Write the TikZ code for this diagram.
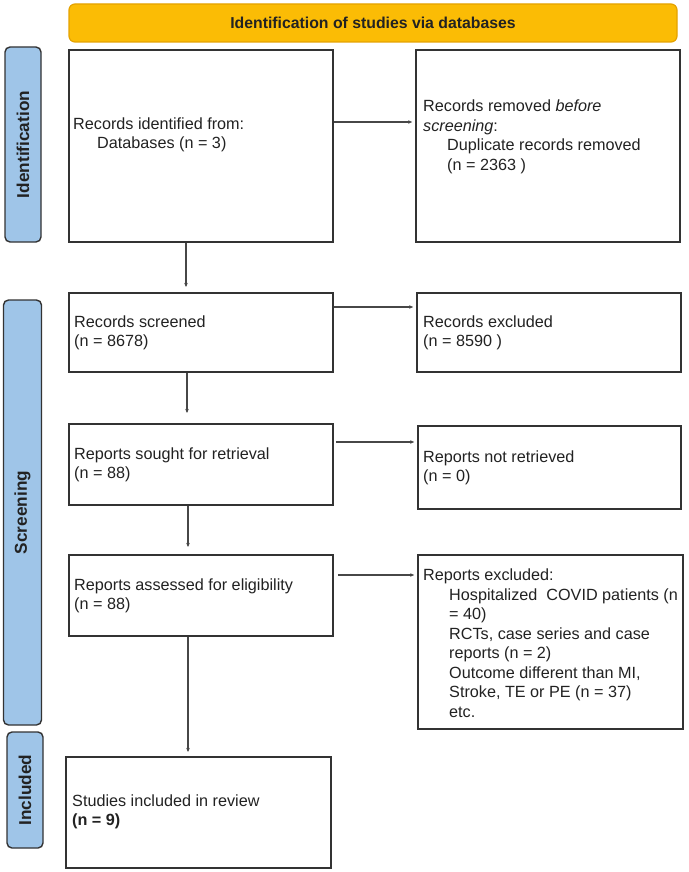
\documentclass[tikz,border=0pt]{standalone}
\usepackage{fontspec}
\setmainfont{Liberation Sans}
\usetikzlibrary{arrows.meta,positioning}
\definecolor{bannerfill}{HTML}{FBBC05}
\definecolor{bannerdraw}{HTML}{E5A200}
\definecolor{sidefill}{HTML}{9FC5E8}
\definecolor{linec}{HTML}{333333}
\definecolor{txtc}{HTML}{222222}
\begin{document}
\begin{tikzpicture}[x=1pt,y=-1pt,
  box/.style={draw=linec,line width=1.7pt,rectangle,inner sep=0pt},
  txt/.style={inner sep=0pt,anchor=west,align=left,text=txtc,font=\fontsize{16.2}{19.5}\selectfont},
  side/.style={draw=linec,line width=1.4pt,fill=sidefill,rounded corners=5pt,inner sep=0pt},
  sidetxt/.style={rotate=90,font=\fontsize{17.2}{18}\selectfont\bfseries,text=txtc},
  arr/.style={draw=linec!90,line width=1.2pt,-{Stealth[length=4pt,width=3.5pt]}}]
\useasboundingbox[fill=white] (0,0) rectangle (688,872);
% banner
\node[draw=bannerdraw,fill=bannerfill,line width=1.2pt,rounded corners=6pt,minimum width=608pt,minimum height=38pt,
  font=\fontsize{15.8}{18}\selectfont\bfseries,text=txtc] (banner) at (373,23) {Identification of studies via databases};
% side bars
\node[side,minimum width=36pt,minimum height=195pt] (sid) at (23,144.5) {};
\node[sidetxt] (sidt) at (sid.center) {Identification};
\node[side,minimum width=38pt,minimum height=425pt] (ssc) at (22.5,512.5) {};
\node[sidetxt] (ssct) at (ssc.center) {Screening};
\node[side,minimum width=36pt,minimum height=116pt] (sin) at (25,790) {};
\node[sidetxt] (sint) at (sin.center) {Included};
% boxes
\node[box,minimum width=264pt,minimum height=192pt] (b1) at (201,146) {};
\node[box,minimum width=264pt,minimum height=192pt] (b2) at (548,146) {};
\node[box,minimum width=264pt,minimum height=79pt] (b3) at (201,332.5) {};
\node[box,minimum width=264pt,minimum height=79pt] (b4) at (549,332.5) {};
\node[box,minimum width=264pt,minimum height=81pt] (b5) at (201,464.5) {};
\node[box,minimum width=263pt,minimum height=83pt] (b6) at (549.5,467.5) {};
\node[box,minimum width=264pt,minimum height=81pt] (b7) at (201,595.5) {};
\node[box,minimum width=265pt,minimum height=174pt] (b8) at (550.5,642) {};
\node[box,minimum width=265pt,minimum height=111pt] (b9) at (198.5,812.5) {};
% texts
\node[txt] (t1) at (73,135) {Records identified from:\\\hspace*{24pt}Databases (n = 3)};
\node[txt] (t2) at (423,137) {Records removed \textit{before}\\\textit{screening}:\\\hspace*{24pt}Duplicate records removed\\\hspace*{24pt}(n = 2363 )};
\node[txt] (t3) at (74,333) {Records screened\\(n = 8678)};
\node[txt] (t4) at (423,333) {Records excluded\\(n = 8590 )};
\node[txt] (t5) at (74,465) {Reports sought for retrieval\\(n = 88)};
\node[txt] (t6) at (423,468) {Reports not retrieved\\(n = 0)};
\node[txt] (t7) at (74,596) {Reports assessed for eligibility\\(n = 88)};
\node[txt] (t8) at (423,643) {Reports excluded:\\
\hspace*{26pt}Hospitalized\ \ COVID patients (n\\
\hspace*{26pt}= 40)\\
\hspace*{26pt}RCTs, case series and case\\
\hspace*{26pt}reports (n = 2)\\
\hspace*{26pt}Outcome different than MI,\\
\hspace*{26pt}Stroke, TE or PE (n = 37)\\
\hspace*{26pt}etc.};
\node[txt] (t9) at (72,812) {Studies included in review\\\textbf{(n = 9)}};
% connectors
\coordinate (a1) at (186,287);
\draw[arr] (b1.south -| a1) -- (a1);
\draw[arr] (b1.east |- 0,122) -- ([xshift=-3pt]b2.west |- 0,122);
\coordinate (a3) at (187,413);
\draw[arr] (b3.south -| a3) -- (a3);
\draw[arr] (b3.east |- 0,307) -- ([xshift=-3pt]b4.west |- 0,307);
\coordinate (a5) at (188,547);
\draw[arr] (b5.south -| a5) -- (a5);
\draw[arr] ([xshift=2pt]b5.east |- 0,442) -- ([xshift=-3pt]b6.west |- 0,442);
\coordinate (a7) at (188,752);
\draw[arr] (b7.south -| a7) -- (a7);
\draw[arr] ([xshift=4pt]b7.east |- 0,575) -- ([xshift=-3pt]b8.west |- 0,575);
\end{tikzpicture}
\end{document}
